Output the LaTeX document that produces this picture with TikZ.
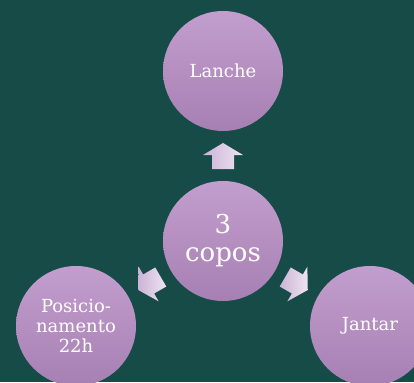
\documentclass[tikz,border=0pt]{standalone}
\usepackage{fontspec}
\setmainfont{DejaVu Serif}
\usetikzlibrary{calc}
\definecolor{bg}{RGB}{22,75,72}
\definecolor{ctop}{RGB}{194,158,206}
\definecolor{cbot}{RGB}{166,128,178}
\definecolor{atip}{RGB}{238,228,242}
\definecolor{abase}{RGB}{204,180,214}
\tikzset{
  bubble/.style={circle, minimum size=120pt, inner sep=0pt, top color=ctop, bottom color=cbot, text=white, align=center, font=\fontsize{18}{20}\selectfont},
  blockarrow/.style={left color=abase, right color=atip}
}
\newcommand{\myblockarrow}{(-13,-11) -- (1,-11) -- (1,-20) -- (13,0) -- (1,20) -- (1,11) -- (-13,11) -- cycle}
\begin{document}
\begin{tikzpicture}[x=1pt,y=-1pt]
\fill[bg] (0,0) rectangle (414,382);
\useasboundingbox (0,0) rectangle (414,382);
\node[bubble] (top) at (223,71) {Lanche};
\node[bubble, font=\fontsize{26}{28}\selectfont] (mid) at (223,241) {3\\copos};
\node[bubble] (bl) at (76,326) {Posicio-\\namento\\22h};
\node[bubble] (br) at (370,326) {Jantar};
\coordinate (p1) at ($(mid)!0.5!(top)$);
\coordinate (p2) at ($(mid)!0.5!(bl)$);
\coordinate (p3) at ($(mid)!0.5!(br)$);
\begin{scope}[shift={(p1)}, rotate=90]
  \shade[blockarrow] \myblockarrow;
\end{scope}
\begin{scope}[shift={(p2)}, rotate=210]
  \shade[blockarrow] \myblockarrow;
\end{scope}
\begin{scope}[shift={(p3)}, rotate=-30]
  \shade[blockarrow] \myblockarrow;
\end{scope}
\end{tikzpicture}
\end{document}
